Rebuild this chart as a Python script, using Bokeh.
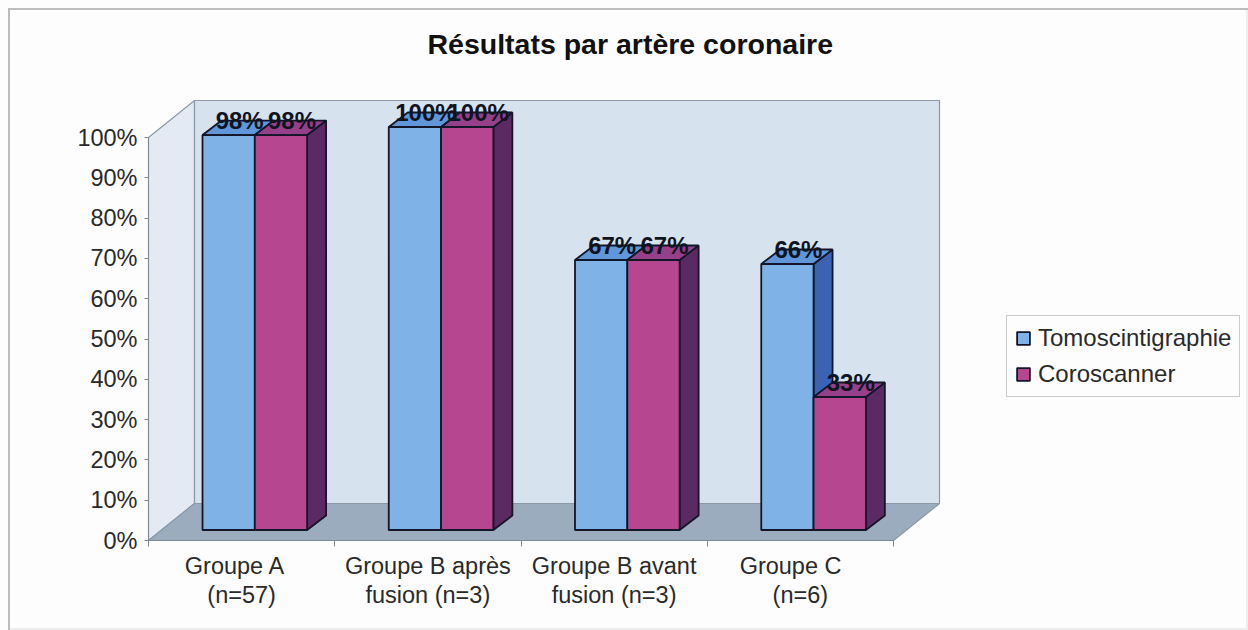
from bokeh.plotting import figure
from bokeh.embed import file_html
from bokeh.resources import INLINE
from bokeh.models import (ColumnDataSource, FixedTicker, Legend, LegendItem,
                          LinearAxis, Range1d, Title)
from bokeh.core.properties import value

# ---- data ----
categories = ["Groupe A\u00a0\u00a0\n(n=57)", "Groupe B après\nfusion (n=3)",
              "Groupe B avant\nfusion (n=3)", "Groupe C\u00a0\u00a0\u00a0\n(n=6)"]
tomoscintigraphie = [98, 100, 67, 66]
coroscanner = [98, 100, 67, 33]
y_ticks = [0, 10, 20, 30, 40, 50, 60, 70, 80, 90, 100]
series_names = ["Tomoscintigraphie", "Coroscanner"]
chart_title = "Résultats par artère coronaire"

# ---- style / geometry ----
W, H = 1248, 630
TOP = 62                     # height of title band
PX_X = 186.25                # px per category
PX_Y = 4.03                  # px per percent
ORIGIN_X, ORIGIN_Y = 148, 540  # figure px of front-axis origin
FONT = "Liberation Sans"
FLOOR_DX, FLOOR_DY = 46 / PX_X, 37 / PX_Y    # depth of the 3D box
BASE_DY = 10.5 / PX_Y                        # bars sit this deep in the box
BAR_W = 52.3 / PX_X
BAR_DX, BAR_DY = 19 / PX_X, 14.5 / PX_Y      # depth of a bar
BAR_OFFSET = 0.29
EDGE = "#121628"
BLUE = dict(front="#7fb3e8", top="#5f97da", side="#3c62b4")
PINK = dict(front="#b5468f", top="#96408a", side="#5b2a62")
PAGE = "#fdfdfd"
TEXT = "#2a2a2a"
LINE = "#7d8a94"
FRAME = "#bdbdbd"
FRAME_FAINT = "#eeeeee"

x0 = -ORIGIN_X / PX_X
x1 = (W - ORIGIN_X) / PX_X
y0 = -(H - ORIGIN_Y) / PX_Y
y1 = (ORIGIN_Y - TOP) / PX_Y


def grad(c):
    return f"linear-gradient({c},{c})"


# the scanned page's frame: strong at the top and left, faint at the right and bottom
p = figure(width=W, height=H, output_backend="svg", toolbar_location=None,
           x_range=Range1d(x0, x1), y_range=Range1d(y0, y1),
           min_border_left=0, min_border_right=0, min_border_bottom=0, min_border_top=TOP,
           background_fill_alpha=0, border_fill_alpha=0,
           outline_line_color=None, x_axis_type=None, y_axis_type=None,
           styles={
               "background-color": PAGE,
               "background-image": ",".join([grad(FRAME), grad(FRAME),
                                             grad(FRAME_FAINT), grad(FRAME_FAINT)]),
               "background-size": "1240px 2px, 2px 622px, 2px 622px, 1240px 2px",
               "background-position": "8px 8px, 8px 8px, 1246px 8px, 8px 628px",
               "background-repeat": "no-repeat",
           })
p.grid.visible = False

t = Title(text=chart_title, text_font=FONT, text_font_size="28.5px", text_font_style="bold",
          text_color="#111111", align="left", offset=427, standoff=6)
p.add_layout(t, "above")

# walls and floor of the 3D box
n = len(categories)
ymax = y_ticks[-1]
WALL_LINE = "#8b99a6"
p.patch([0, FLOOR_DX, FLOOR_DX, 0], [0, FLOOR_DY, ymax + FLOOR_DY, ymax],
        fill_color="#e3eaf4", line_color=WALL_LINE, line_width=1.2)
p.patch([FLOOR_DX, n + FLOOR_DX, n + FLOOR_DX, FLOOR_DX],
        [FLOOR_DY, FLOOR_DY, ymax + FLOOR_DY, ymax + FLOOR_DY],
        fill_color="#d7e2ef", line_color=WALL_LINE, line_width=1.2)
p.patch([0, FLOOR_DX, n + FLOOR_DX, n], [0, FLOOR_DY, FLOOR_DY, 0],
        fill_color="#9aacbe", line_color=WALL_LINE, line_width=1.2)

# bars
lefts_a = [i + BAR_OFFSET for i in range(n)]
fronts = []
for k, (vals, col) in enumerate(zip([tomoscintigraphie, coroscanner], [BLUE, PINK])):
    left = [l + k * BAR_W for l in lefts_a]
    right = [l + BAR_W for l in left]
    tops = [v + BASE_DY for v in vals]
    side_xs = [[r, r + BAR_DX, r + BAR_DX, r] for r in right]
    side_ys = [[BASE_DY, BASE_DY + BAR_DY, t + BAR_DY, t] for t in tops]
    top_xs = [[l, l + BAR_DX, r + BAR_DX, r] for l, r in zip(left, right)]
    top_ys = [[t, t + BAR_DY, t + BAR_DY, t] for t in tops]
    p.patches(side_xs, side_ys, fill_color=col["side"], line_color=EDGE, line_width=1.8)
    p.patches(top_xs, top_ys, fill_color=col["top"], line_color=EDGE, line_width=1.8)
    src = ColumnDataSource(dict(x=[(l + r) / 2 for l, r in zip(left, right)],
                                top=tops, bottom=[BASE_DY] * n))
    fronts.append((src, col))

renderers = []
for src, col in fronts:
    renderers.append(p.vbar(x="x", top="top", bottom="bottom", width=BAR_W, source=src,
                            fill_color=col["front"], line_color=EDGE, line_width=1.8))

# value labels
for k, vals in enumerate([tomoscintigraphie, coroscanner]):
    xs = [l + k * BAR_W + BAR_W / 2 + 11 / PX_X for l in lefts_a]
    ys = [v + BASE_DY + 14.5 / PX_Y for v in vals]
    p.text(xs, ys, text=[f"{v}%" for v in vals], text_font=value(FONT), text_font_size="24px",
           text_font_style="bold", text_color="#10141f", text_align="center",
           text_baseline="middle")

# axes
yaxis = LinearAxis(ticker=FixedTicker(ticks=y_ticks), fixed_location=0, bounds=(0, ymax),
                   major_label_overrides={v: f"{v}%" for v in y_ticks},
                   major_label_text_font=FONT, major_label_text_font_size="23.5px",
                   major_label_text_color=TEXT, major_label_standoff=7,
                   axis_line_color=LINE, major_tick_line_color=LINE,
                   major_tick_out=4, major_tick_in=0,
                   minor_tick_line_color=None)
p.add_layout(yaxis, "left")

xaxis = LinearAxis(ticker=FixedTicker(ticks=[i + 0.5 for i in range(n)],
                                      minor_ticks=list(range(n + 1))),
                   fixed_location=0, bounds=(0, n),
                   major_label_overrides={i + 0.5: c for i, c in enumerate(categories)},
                   major_label_text_font=FONT, major_label_text_font_size="23.5px",
                   major_label_text_color=TEXT, major_label_standoff=6,
                   major_label_text_line_height=1.15,
                   axis_line_color=LINE, major_tick_line_color=None,
                   major_tick_out=0, major_tick_in=0,
                   minor_tick_line_color=LINE, minor_tick_out=6, minor_tick_in=0)
p.add_layout(xaxis, "below")

legend = Legend(items=[LegendItem(label=value(name), renderers=[r])
                       for name, r in zip(series_names, renderers)],
                location=(1006, 233), orientation="vertical",
                label_text_font=FONT, label_text_font_size="24px", label_text_color=TEXT,
                glyph_width=16, glyph_height=16, label_standoff=7,
                padding=8, spacing=8, margin=0,
                border_line_color="#999999", background_fill_color=PAGE,
                background_fill_alpha=1)
p.add_layout(legend, "center")

open("out.html", "w").write(file_html(p, INLINE))
